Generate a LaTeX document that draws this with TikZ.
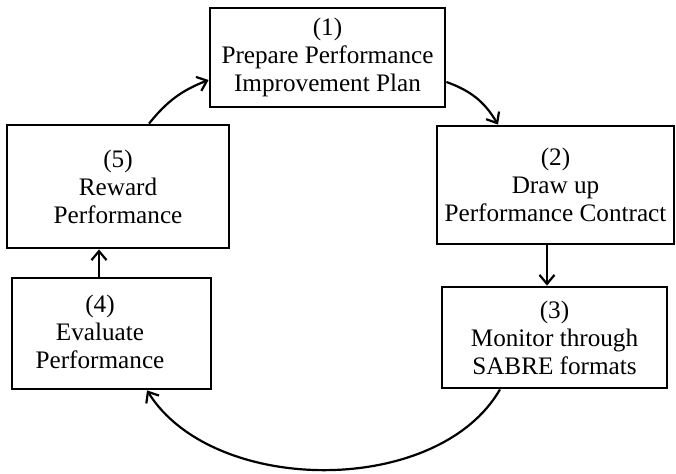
\documentclass[tikz,border=0pt]{standalone}
\usepackage{fontspec}
\setmainfont{Liberation Serif}
\usetikzlibrary{positioning}
\usetikzlibrary{arrows.meta}
\usetikzlibrary{calc}

\begin{document}
\begin{tikzpicture}[
  x=0.5pt, y=0.5pt,
  font=\fontsize{12.6}{14}\selectfont,
  box/.style={draw, line width=1.4pt, align=center, inner sep=0pt},
  arrow/.style={-{Straight Barb[length=4.5pt, width=7.5pt]}, line width=1.1pt},
  label text/.style={align=center, inner sep=0pt}
]
\useasboundingbox (0,0) rectangle (676,-473);

% The five steps of the cycle
\node[box, minimum width=117.5pt, minimum height=49.5pt] (plan) at (327.5,-57.5) {(1)\\Prepare Performance\\Improvement Plan};
\node[box, minimum width=118.5pt, minimum height=59pt] (contract) at (555.5,-185) {(2)\\Draw up\\Performance Contract};
\node[box, minimum width=112.5pt, minimum height=50.5pt] (monitor) at (554.5,-337.5) {(3)\\Monitor through\\SABRE formats};
\node[box, minimum width=99.5pt, minimum height=55.5pt] (evaluate) at (111.5,-333.5) {};
\node[label text] (evaltext) at (100,-332) {(4)\\Evaluate\\Performance};
\node[box, minimum width=111pt, minimum height=61.5pt] (reward) at (118,-186.5) {(5)\\Reward\\Performance};

% Arrow ends
\coordinate (c2) at ([xshift=-4.25pt]contract.south);
\coordinate (c4) at ([xshift=-6.25pt]evaluate.north);

% Arrows round the cycle
\draw[arrow] ([yshift=-12.25pt]plan.east) to[bend left=20] ([xshift=-28.75pt]contract.north);
\draw[arrow] (c2) -- (c2 |- monitor.north);
\draw[arrow] ([xshift=-27.25pt]monitor.south) to[out=-120, in=-58, looseness=0.9] ([xshift=17.75pt]evaluate.south);
\draw[arrow] (c4) -- (c4 |- reward.south);
\draw[arrow] ([xshift=15.5pt]reward.north) to[bend left=15] ([yshift=-11.25pt]plan.west);

\end{tikzpicture}
\end{document}
